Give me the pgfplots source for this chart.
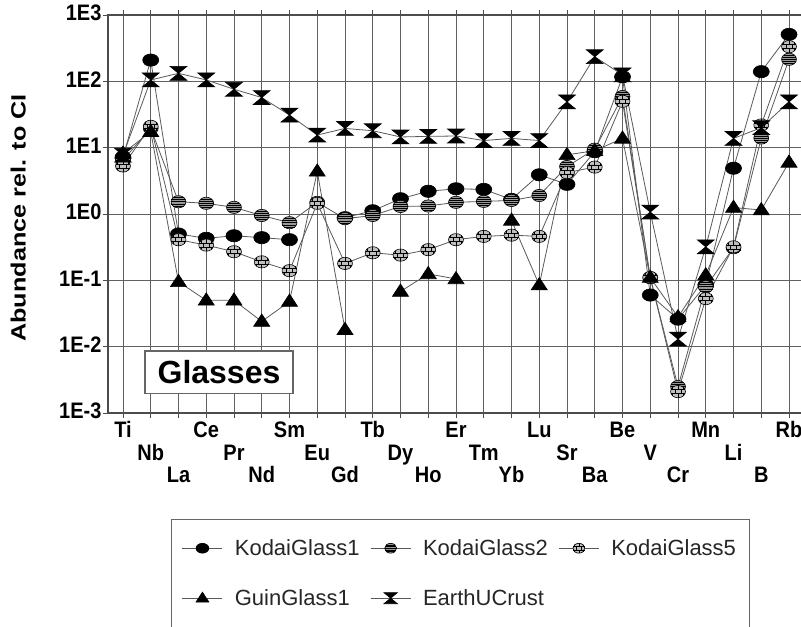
\documentclass[border=0pt]{standalone}
\usepackage{fontspec}
\setmainfont{Liberation Sans}
\usepackage{graphicx}
\usepackage{pgfplots}
\pgfplotsset{compat=1.18}
\usepackage{pgfplotstable}

\newcommand{\ST}{\rule[-4pt]{0pt}{16.5pt}}
\newcommand{\TL}[1]{\ST\scalebox{1}[1.12]{#1}}

\pgfdeclareplotmark{kgA}{%
  \pgfpathellipse{\pgfpointorigin}{\pgfpoint{6pt}{0pt}}{\pgfpoint{0pt}{4.6pt}}%
  \pgfusepathqfillstroke}
\pgfdeclareplotmark{kgB}{%
  \pgfpathellipse{\pgfpointorigin}{\pgfpoint{5.6pt}{0pt}}{\pgfpoint{0pt}{4.6pt}}%
  \pgfusepathqfillstroke
  \pgfsetlinewidth{0.45pt}%
  \pgfpathmoveto{\pgfpoint{-5.6pt}{0pt}}\pgfpathlineto{\pgfpoint{5.6pt}{0pt}}%
  \pgfpathmoveto{\pgfpoint{-5.25pt}{1.6pt}}\pgfpathlineto{\pgfpoint{5.25pt}{1.6pt}}%
  \pgfpathmoveto{\pgfpoint{-5.25pt}{-1.6pt}}\pgfpathlineto{\pgfpoint{5.25pt}{-1.6pt}}%
  \pgfpathmoveto{\pgfpoint{-4.1pt}{3.1pt}}\pgfpathlineto{\pgfpoint{4.1pt}{3.1pt}}%
  \pgfpathmoveto{\pgfpoint{-4.1pt}{-3.1pt}}\pgfpathlineto{\pgfpoint{4.1pt}{-3.1pt}}%
  \pgfusepathqstroke}
\pgfdeclareplotmark{kgC}{%
  \pgfpathellipse{\pgfpointorigin}{\pgfpoint{5.6pt}{0pt}}{\pgfpoint{0pt}{4.6pt}}%
  \pgfusepathqfillstroke
  \pgfsetlinewidth{0.45pt}%
  \pgfpathmoveto{\pgfpoint{-5.3pt}{1.5pt}}\pgfpathlineto{\pgfpoint{5.3pt}{1.5pt}}%
  \pgfpathmoveto{\pgfpoint{-5.3pt}{-1.5pt}}\pgfpathlineto{\pgfpoint{5.3pt}{-1.5pt}}%
  \pgfpathmoveto{\pgfpoint{-2.4pt}{-1.5pt}}\pgfpathlineto{\pgfpoint{-2.4pt}{1.5pt}}%
  \pgfpathmoveto{\pgfpoint{2.4pt}{-1.5pt}}\pgfpathlineto{\pgfpoint{2.4pt}{1.5pt}}%
  \pgfpathmoveto{\pgfpoint{0pt}{1.5pt}}\pgfpathlineto{\pgfpoint{0pt}{4.6pt}}%
  \pgfpathmoveto{\pgfpoint{0pt}{-1.5pt}}\pgfpathlineto{\pgfpoint{0pt}{-4.6pt}}%
  \pgfpathmoveto{\pgfpoint{-4pt}{1.5pt}}\pgfpathlineto{\pgfpoint{-4pt}{3.2pt}}%
  \pgfpathmoveto{\pgfpoint{4pt}{1.5pt}}\pgfpathlineto{\pgfpoint{4pt}{3.2pt}}%
  \pgfpathmoveto{\pgfpoint{-4pt}{-1.5pt}}\pgfpathlineto{\pgfpoint{-4pt}{-3.2pt}}%
  \pgfpathmoveto{\pgfpoint{4pt}{-1.5pt}}\pgfpathlineto{\pgfpoint{4pt}{-3.2pt}}%
  \pgfusepathqstroke}
\pgfdeclareplotmark{tri}{%
  \pgfpathmoveto{\pgfpoint{0pt}{5.6pt}}%
  \pgfpathlineto{\pgfpoint{-6pt}{-3.6pt}}%
  \pgfpathlineto{\pgfpoint{6pt}{-3.6pt}}%
  \pgfpathclose\pgfusepathqfillstroke}
\pgfdeclareplotmark{hglass}{%
  \pgfpathmoveto{\pgfpoint{-6.3pt}{5.2pt}}%
  \pgfpathlineto{\pgfpoint{6.3pt}{5.2pt}}%
  \pgfpathlineto{\pgfpoint{-6.3pt}{-5.2pt}}%
  \pgfpathlineto{\pgfpoint{6.3pt}{-5.2pt}}%
  \pgfpathclose\pgfusepathqfillstroke}

\pgfplotstableread{
x   g1    g2     g5     gu     eu
0   7.2   6.5    5.3    8.2    7.7
1   209   19.6   21     17.4   105
2   0.50  1.53   0.41   0.095  132
3   0.43  1.45   0.34   0.050  105
4   0.47  1.26   0.27   0.050  76
5   0.44  0.95   0.19   0.024  57
6   0.41  0.74   0.14   0.048  31
7   nan   1.50   1.45   4.4    15.5
8   0.88  0.85   0.18   0.018  19.5
9   1.12  0.95   0.26   nan    18
10  1.7   1.30   0.24   0.068  14.5
11  2.2   1.32   0.29   0.125  14.8
12  2.4   1.50   0.41   0.105  15
13  2.35  1.55   0.46   nan    12.8
14  1.66  1.60   0.48   0.80   13.8
15  3.9   1.90   0.46   0.085  12.8
16  2.8   5.2    4.2    7.8    49
17  8.7   9.5    5.1    9.0    235
18  117   59     50     13.8   125
19  0.060 0.11   0.11   0.11   1.07
20  0.026 0.0025 0.0021 0.028  0.013
21  0.085 0.080  0.053  0.12   0.32
22  4.9   0.31   0.32   1.25   13.8
23  140   14     22     1.15   20
24  510   215    333    6.0    49
}\datatable

\begin{document}
\begin{tikzpicture}
\useasboundingbox (0,0) rectangle (600.75pt,469.5pt);
\begin{axis}[
  at={(81pt,159.75pt)}, anchor=south west,
  scale only axis, width=522pt, height=298.5pt,
  ymode=log, ymin=1e-3, ymax=1e3,
  xmin=-0.54, xmax=24.54,
  xtick={0,...,24},
  xticklabels={
    {\TL{Ti}},{\ST\\\TL{Nb}},{\ST\\\ST\\\TL{La}},
    {\TL{Ce}},{\ST\\\TL{Pr}},{\ST\\\ST\\\TL{Nd}},
    {\TL{Sm}},{\ST\\\TL{Eu}},{\ST\\\ST\\\TL{Gd}},
    {\TL{Tb}},{\ST\\\TL{Dy}},{\ST\\\ST\\\TL{Ho}},
    {\TL{Er}},{\ST\\\TL{Tm}},{\ST\\\ST\\\TL{Yb}},
    {\TL{Lu}},{\ST\\\TL{Sr}},{\ST\\\ST\\\TL{Ba}},
    {\TL{Be}},{\ST\\\TL{V}},{\ST\\\ST\\\TL{Cr}},
    {\TL{Mn}},{\ST\\\TL{Li}},{\ST\\\ST\\\TL{B}},
    {\TL{Rb}}},
  ytick={1e-3,1e-2,1e-1,1,10,100,1000},
  yticklabels={\TL{1E-3},\TL{1E-2},\TL{1E-1},\TL{1E0},\TL{1E1},\TL{1E2},\TL{1E3}},
  yminorticks=false,
  grid=major,
  major grid style={black!62, line width=0.6pt},
  axis line style={black!70, line width=0.8pt},
  tick align=outside, major tick length=3.75pt,
  tick style={black!70, line width=0.6pt},
  tick label style={font=\bfseries\fontsize{15}{16.9}\selectfont},
  xticklabel style={align=center, anchor=north, inner sep=1pt, yshift=-1pt},
  yticklabel style={inner sep=1pt},
  every axis y label/.style={at={(axis description cs:-0.129,0.49)}, rotate=90, anchor=center,
     font=\bfseries\fontsize{15.5}{18}\selectfont},
  ylabel={\scalebox{1.22}[1]{Abundance rel. to CI}},
  unbounded coords=jump,
  every axis plot/.append style={line width=0.6pt, draw=black!65},
  legend image code/.code={\draw[mark repeat=2,mark phase=2,#1,every mark/.append style={scale=0.8}]
      plot coordinates {(0pt,0pt) (15pt,0pt) (30pt,0pt)};},
  legend columns=3,
  legend cell align=left,
  legend style={at={(0.0905,-0.266)}, anchor=north west, draw=black!60, line width=0.6pt,
     fill=white, text=black!85, font=\fontsize{16.5}{19}\selectfont,
     inner xsep=8pt, inner ysep=13pt, row sep=20pt,
     /tikz/every odd column/.append style={column sep=7pt},
     /tikz/every even column/.append style={column sep=6pt}},
]
\addplot[mark=kgA, mark options={fill=black, draw=black, line width=0.5pt}] table[x=x,y=g1] {\datatable};
\addlegendentry{KodaiGlass1}
\addplot[mark=kgB, mark options={fill=black!40, draw=black, line width=0.5pt}] table[x=x,y=g2] {\datatable};
\addlegendentry{KodaiGlass2}
\addplot[mark=kgC, mark options={fill=black!25, draw=black, line width=0.5pt}] table[x=x,y=g5] {\datatable};
\addlegendentry{KodaiGlass5}
\addplot[mark=tri, mark options={fill=black, draw=black, line width=0.5pt}] table[x=x,y=gu] {\datatable};
\addlegendentry{GuinGlass1}
\addplot[mark=hglass, mark options={fill=black, draw=black, line width=0.5pt}] table[x=x,y=eu] {\datatable};
\addlegendentry{EarthUCrust}
\node[draw=black!60, line width=0.8pt, fill=white, minimum width=111pt, minimum height=32pt,
      font=\bfseries\fontsize{24}{28}\selectfont, inner sep=0pt]
      at (axis cs:3.46,0.0041) {Glasses};
\end{axis}
\end{tikzpicture}
\end{document}
